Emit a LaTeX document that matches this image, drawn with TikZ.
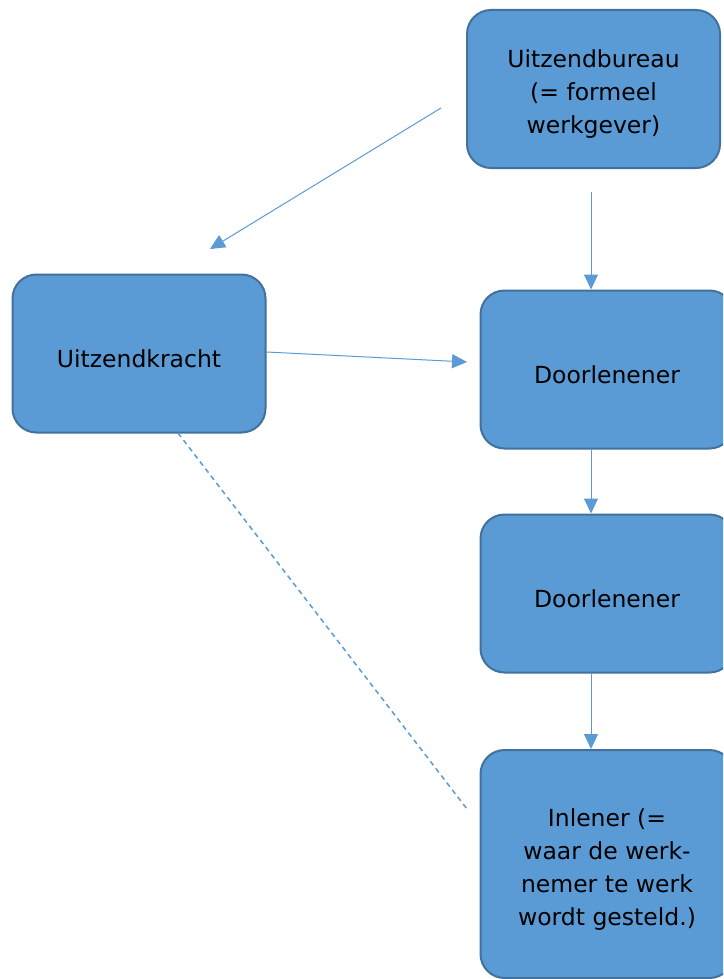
\documentclass[tikz,border=0pt]{standalone}
\usepackage{fontspec}
\setmainfont{DejaVu Sans}
\usetikzlibrary{arrows.meta}
\definecolor{vak}{HTML}{5B9BD5}
\definecolor{rand}{HTML}{41719C}
\newcommand{\hoog}{\rule{0pt}{28pt}}
\tikzstyle{blok}=[draw=rand,fill=vak,line width=2pt,rounded corners=24pt,minimum width=253pt,minimum height=158pt,align=center,font=\fontsize{23.5}{33}\selectfont]
\tikzstyle{pijl}=[vak,line width=1pt,-{Triangle[length=15pt,width=14pt]}]
\tikzstyle{stip}=[vak,line width=1.5pt,dash pattern=on 5pt off 4pt]

\begin{document}
\begin{tikzpicture}[x=1pt,y=-1pt]
    \clip (0,0) rectangle (723,979);
    \fill[white] (0,0) rectangle (723,979);
    \node[blok] (ub) at (593.5,89) {\hoog Uitzendbureau\\(= formeel\\werkgever)};
    \node[blok] (uk) at (139,353.5) {\hoog Uitzendkracht};
    \node[blok] (dl1) at (607,369.5) {\hoog Doorlenener};
    \node[blok] (dl2) at (607,593.5) {\hoog Doorlenener};
    \node[blok,minimum height=228pt] (inl) at (607,864) {\hoog Inlener (=\\waar de werk-\\nemer te werk\\wordt gesteld.)};
    \coordinate (d1) at (441,108);
    \coordinate (d2) at (210,249);
    \coordinate (v1) at (591,192);
    \coordinate (h2) at (467,362);
    \coordinate (s1) at (178,433);
    \coordinate (s2) at (467,809);
    \draw[pijl] (d1) -- (d2);
    \draw[pijl] (v1) -- (v1 |- dl1.north);
    \draw[pijl] (uk.east |- 0,352) -- (h2);
    \foreach \a/\b in {dl1/dl2, dl2/inl}
        \draw[pijl] (v1 |- \a.south) -- (v1 |- \b.north);
    \draw[stip] (s1) -- (s2);
\end{tikzpicture}
\end{document}
